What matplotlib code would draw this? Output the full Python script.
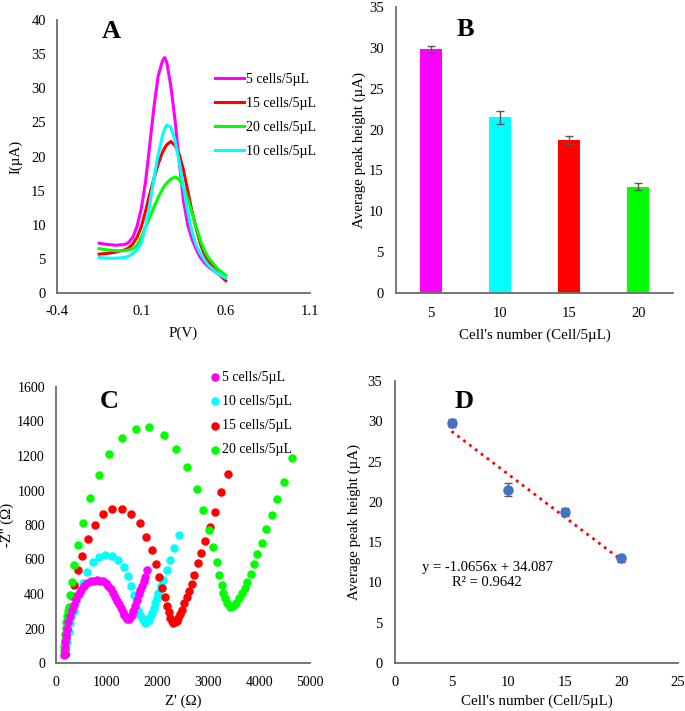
import numpy as np
import matplotlib
matplotlib.use("Agg")
import matplotlib.pyplot as plt

plt.rcParams['font.family'] = ['Liberation Serif', 'DejaVu Serif']
plt.rcParams['font.size'] = 10.5

# ---------------- data ----------------
# A: DPV curves
pot = [-0.15, -0.1, -0.05, 0.0, 0.025, 0.05, 0.075, 0.1, 0.125, 0.15, 0.175, 0.2, 0.225, 0.2375,
       0.25, 0.275, 0.3, 0.325, 0.35, 0.375, 0.4, 0.425, 0.45, 0.475, 0.5, 0.55, 0.6]
i_5 = [7.3, 7.1, 7.0, 7.1, 7.4, 8.2, 9.8, 12.4, 16.3, 21.7, 27.3, 31.8, 34.0, 34.5,
       33.9, 30.3, 25.3, 19.2, 13.5, 10.0, 7.9, 6.4, 5.2, 4.4, 3.8, 2.9, 2.1]
i_15 = [5.7, 5.8, 6.0, 6.3, 6.6, 7.2, 8.2, 9.7, 12.0, 14.5, 16.8, 18.9, 20.6, 21.2,
        21.7, 22.2, 21.6, 20.3, 18.0, 15.0, 12.0, 9.5, 7.2, 5.6, 4.6, 3.0, 1.8]
i_20 = [6.5, 6.3, 6.2, 6.2, 6.3, 6.5, 7.0, 8.2, 9.6, 11.1, 12.6, 14.0, 15.2, 15.7,
        16.1, 16.7, 17.0, 16.6, 15.5, 13.8, 11.8, 9.7, 7.7, 6.2, 5.1, 3.6, 2.6]
i_10 = [5.2, 5.1, 5.1, 5.2, 5.4, 5.8, 6.3, 7.4, 9.6, 13.0, 16.8, 20.3, 23.0, 24.0,
        24.6, 24.3, 22.3, 19.2, 15.5, 12.0, 9.0, 7.0, 5.8, 4.8, 4.0, 2.9, 2.2]

# B / D: average peak heights
cells = [5, 10, 15, 20]
peak = [29.8, 21.5, 18.7, 13.0]
peak_err = [0.45, 0.8, 0.5, 0.45]
slope, intercept = -1.0656, 34.087

# C: Nyquist plots (Z', -Z'')
zr_5 = [163, 172, 185, 200, 220, 245, 275, 310, 350, 400, 450, 500, 560, 620, 680, 740, 800,
        860, 920, 980, 1030, 1080, 1125, 1165, 1200, 1240, 1275, 1310, 1340, 1370, 1400, 1430,
        1460, 1490, 1520, 1555, 1590, 1625, 1660, 1695, 1730, 1760, 1790]
zi_5 = [45, 80, 120, 160, 200, 240, 275, 305, 335, 370, 400, 425, 448, 463, 473, 478, 480,
        478, 473, 462, 447, 428, 405, 382, 362, 340, 318, 298, 280, 265, 256, 257,
        265, 278, 300, 330, 365, 398, 425, 448, 475, 500, 540]
zr_10 = [205, 225, 250, 275, 300, 346, 399, 445, 523, 609, 727, 851, 969, 1101, 1225, 1329,
         1416, 1475, 1526, 1579, 1624, 1660, 1691, 1725, 1756, 1790, 1821, 1855, 1887, 1920,
         1952, 1985, 2017, 2070, 2116, 2182, 2247, 2326, 2420]
zi_10 = [55, 120, 180, 230, 265, 300, 356, 405, 466, 530, 588, 617, 626, 622, 597, 559,
         505, 447, 395, 350, 308, 280, 260, 242, 231, 238, 250, 268, 289, 318,
         347, 377, 405, 445, 482, 540, 597, 665, 742]
zr_15 = [170, 180, 195, 215, 240, 270, 310, 360, 425, 511, 629, 759, 924, 1107, 1290, 1475,
         1644, 1775, 1893, 1972, 2037, 2096, 2143, 2182, 2215, 2247, 2280, 2312, 2345, 2380,
         2411, 2445, 2477, 2522, 2575, 2627, 2674, 2725, 2792, 2857, 2941, 3034, 3138, 3244, 3394]
zi_15 = [50, 95, 145, 200, 260, 320, 390, 453, 540, 622, 719, 800, 862, 894, 894, 863,
         810, 732, 655, 572, 497, 434, 382, 333, 295, 262, 242, 231, 235, 246,
         260, 285, 308, 347, 385, 418, 459, 511, 582, 640, 707, 790, 873, 991, 1093]
zr_20 = [150, 160, 170, 180, 192, 205, 220, 240, 262, 281, 315, 360, 438, 523, 661, 838, 1048,
         1290, 1565, 1840, 2123, 2371, 2588, 2772, 2902, 3014, 3099, 3165, 3217, 3264, 3296,
         3329, 3374, 3427, 3480, 3539, 3604, 3663, 3722, 3767, 3834, 3893, 3964, 4050, 4135,
         4247, 4357, 4483, 4640]
zi_20 = [67, 100, 135, 170, 205, 240, 270, 300, 327, 395, 472, 568, 684, 810, 954, 1089, 1210,
         1305, 1359, 1367, 1324, 1241, 1134, 1008, 887, 771, 671, 584, 511, 453, 405,
         376, 347, 327, 331, 350, 379, 405, 434, 472, 516, 573, 630, 697, 775,
         858, 950, 1050, 1191]

MAG, CYA, RED, GRN = '#FF00FF', '#00FFFF', '#FF0000', '#00FF00'
SPINE = '#6b6b6b'
LAB = 10.8

W, H = 685, 711
fig = plt.figure(figsize=(W / 100, H / 100), dpi=100)


def px_axes(l, t, r, b):
    return fig.add_axes([l / W, 1 - b / H, (r - l) / W, (b - t) / H])


def style(ax, xpad=9.5, ypad=8):
    for s in ['top', 'right']:
        ax.spines[s].set_visible(False)
    for s in ['left', 'bottom']:
        ax.spines[s].set_color(SPINE)
        ax.spines[s].set_linewidth(1.3)
    ax.tick_params(length=0, labelsize=10.5)
    ax.tick_params(axis='x', pad=xpad)
    ax.tick_params(axis='y', pad=ypad)


# ---- A ----
axA = px_axes(57, 20, 310, 293)
style(axA, xpad=8.5, ypad=8)
axA.plot(pot, i_5, color=MAG, lw=2.2, label='5 cells/5µL')
axA.plot(pot, i_15, color=RED, lw=2.2, label='15 cells/5µL')
axA.plot(pot, i_20, color=GRN, lw=2.2, label='20 cells/5µL')
axA.plot(pot, i_10, color=CYA, lw=2.2, label='10 cells/5µL')
axA.set_xlim(-0.4, 1.1)
axA.set_ylim(0, 40)
axA.set_xticks([-0.4, 0.1, 0.6, 1.1])
axA.set_xticklabels(['-0.4', '0.1', '0.6', '1.1'])
axA.set_yticks(range(0, 41, 5))
axA.set_xlabel('P(V)', labelpad=6, fontsize=LAB)
axA.set_ylabel('I(µA)', labelpad=6, fontsize=LAB)
axA.legend(loc='upper left', bbox_to_anchor=(215 / W, 1 - 73 / H), bbox_transform=fig.transFigure,
           frameon=False, borderpad=0, borderaxespad=0, handlelength=2.1, handletextpad=0.15,
           labelspacing=0.8, fontsize=10)
axA.text(111 / W, 1 - 31 / H, 'A', transform=fig.transFigure, fontsize=19, fontweight='bold',
         ha='center', va='center')

# ---- B ----
axB = px_axes(396, 7, 673, 293)
style(axB, xpad=10, ypad=9)
axB.bar(range(len(cells)), peak, width=0.32, color=[MAG, CYA, RED, GRN],
        yerr=peak_err, capsize=3, error_kw=dict(ecolor='#595959', elinewidth=1, capthick=1))
axB.set_xlim(-0.5, 3.5)
axB.set_ylim(0, 35)
axB.set_xticks(range(len(cells)))
axB.set_xticklabels([str(c) for c in cells])
axB.set_yticks(range(0, 36, 5))
axB.set_xlabel("Cell's number (Cell/5µL)", labelpad=6, fontsize=LAB)
axB.set_ylabel('Average peak height (µA)', labelpad=2, fontsize=LAB)
axB.text(465 / W, 1 - 30 / H, 'B', transform=fig.transFigure, fontsize=19, fontweight='bold',
         ha='center', va='center')

# ---- C ----
axC = px_axes(56, 387, 310, 663)
style(axC, xpad=9, ypad=8)
axC.scatter(zr_5, zi_5, s=26, color=MAG, label='5 cells/5µL', zorder=3)
axC.scatter(zr_10, zi_10, s=26, color=CYA, label='10 cells/5µL', zorder=2)
axC.scatter(zr_15, zi_15, s=26, color=RED, label='15 cells/5µL', zorder=2)
axC.scatter(zr_20, zi_20, s=26, color=GRN, label='20 cells/5µL', zorder=2)
axC.set_xlim(0, 5000)
axC.set_ylim(0, 1600)
axC.set_xticks(range(0, 5001, 1000))
axC.set_yticks(range(0, 1601, 200))
axC.tick_params(axis='both', labelsize=10)
axC.set_xlabel("Z' (Ω)", labelpad=4.5, fontsize=LAB)
axC.set_ylabel("-Z'' (Ω)", labelpad=2, fontsize=LAB)
axC.legend(loc='upper left', bbox_to_anchor=(211 / W, 1 - 371 / H), bbox_transform=fig.transFigure,
           frameon=False, borderpad=0, borderaxespad=0, handlelength=0.6, handletextpad=0.2,
           labelspacing=0.8, fontsize=10, scatterpoints=1)
axC.text(109 / W, 1 - 402 / H, 'C', transform=fig.transFigure, fontsize=19, fontweight='bold',
         ha='center', va='center')

# ---- D ----
axD = px_axes(395, 381, 678, 663)
style(axD, xpad=9.5, ypad=9)
xs = np.array([cells[0], cells[-1]])
axD.plot(xs, slope * xs + intercept, linestyle=':', color=RED, lw=2)
axD.errorbar(cells, peak, yerr=peak_err, fmt='o', color='#4472C4', ms=6.5,
             ecolor='#595959', elinewidth=1, capsize=3, capthick=1, zorder=3)
axD.set_xlim(0, 25)
axD.set_ylim(0, 35)
axD.set_xticks(range(0, 26, 5))
axD.set_yticks(range(0, 36, 5))
axD.set_xlabel("Cell's number (Cell/5µL)", labelpad=3.5, fontsize=LAB)
axD.set_ylabel('Average peak height (µA)', labelpad=5, fontsize=LAB)
axD.text(487 / W, 1 - 567 / H, 'y = -1.0656x + 34.087', transform=fig.transFigure,
         fontsize=10.5, ha='center', va='center')
axD.text(487 / W, 1 - 582 / H, 'R² = 0.9642', transform=fig.transFigure,
         fontsize=10.5, ha='center', va='center')
axD.text(464 / W, 1 - 401 / H, 'D', transform=fig.transFigure, fontsize=19, fontweight='bold',
         ha='center', va='center')

fig.savefig('out.png', dpi=100, facecolor='white')
